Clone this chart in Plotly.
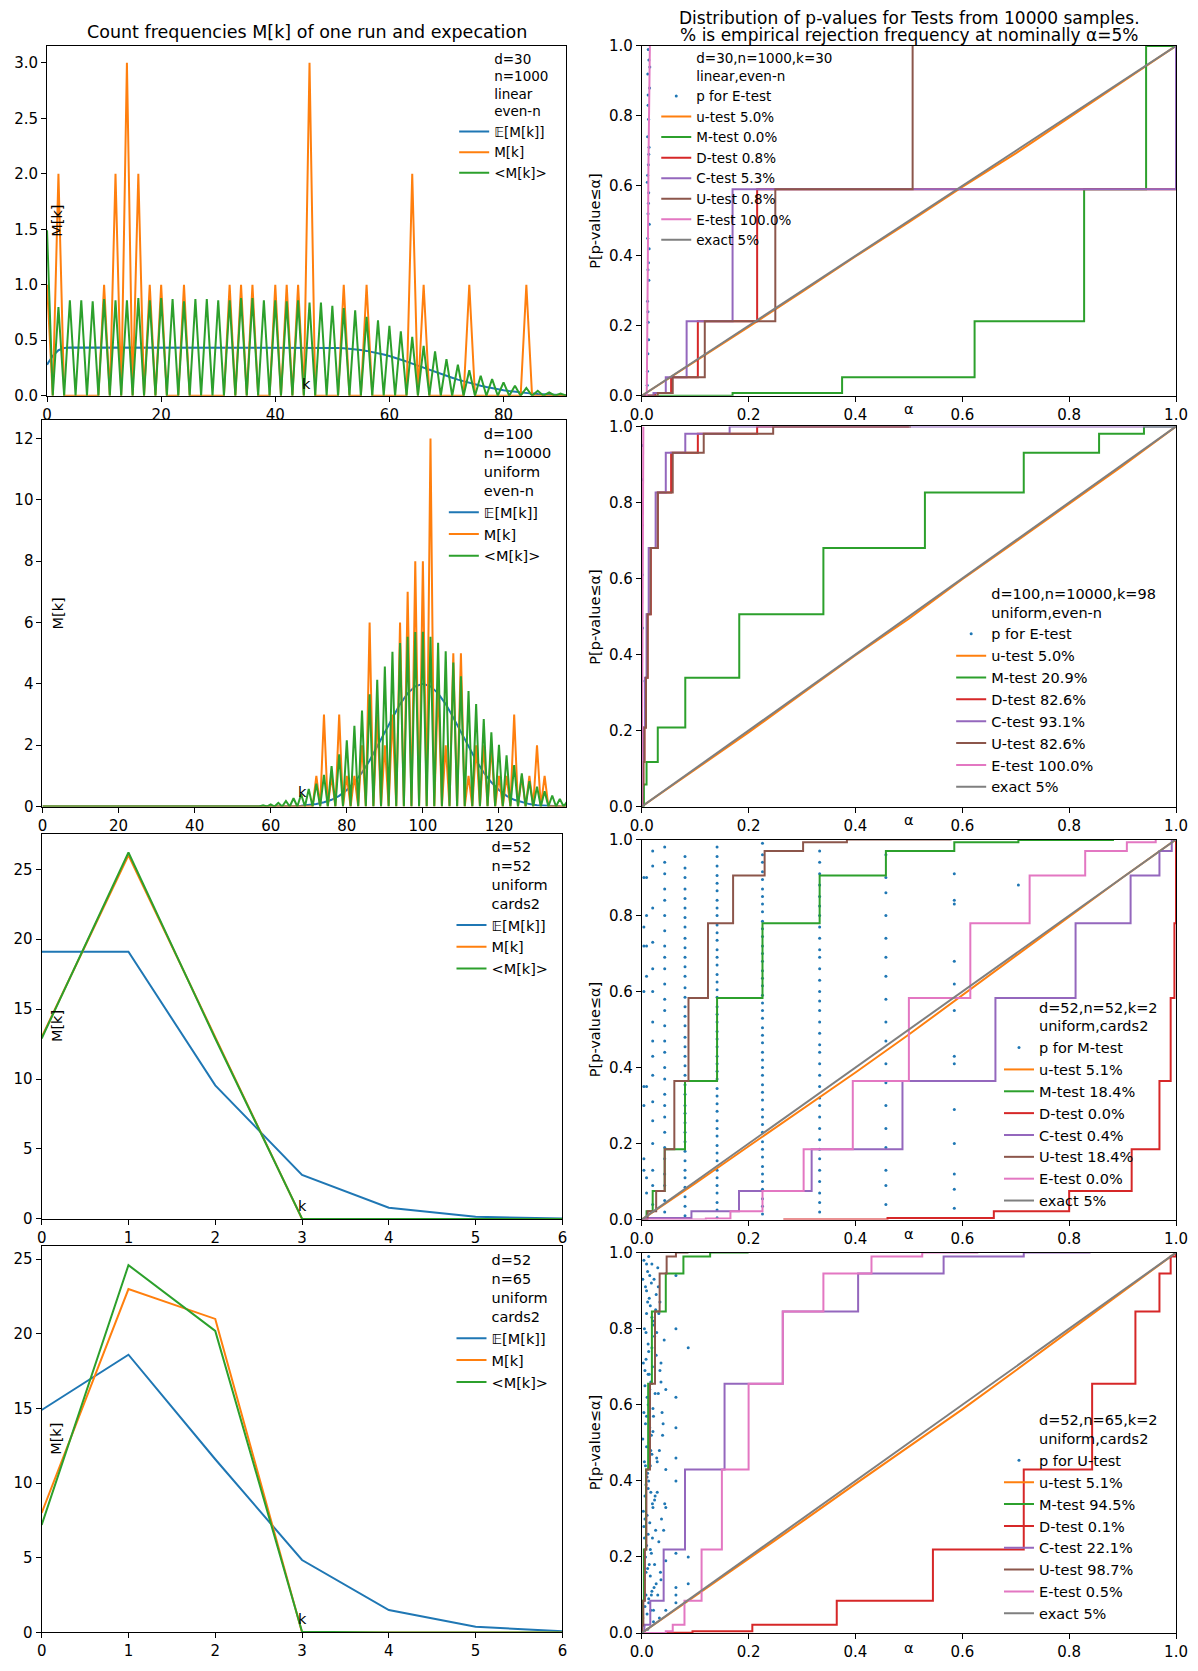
import plotly.graph_objects as go

# The page body has an 8px margin; the figure (placed at 8,8) is sized so the page fits the window.
# Positions below are given in reference-picture pixels and mapped into the figure.
FW, FH = 1181, 1654
SX, BX = 0.994, -5.5
SY, Y0 = 0.9899, 5.013
FONT = "DejaVu Sans"
C_BLUE, C_ORANGE, C_GREEN, C_RED = "#1f77b4", "#ff7f0e", "#2ca02c", "#d62728"
C_PURPLE, C_BROWN, C_PINK, C_GRAY = "#9467bd", "#8c564b", "#e377c2", "#7f7f7f"

# ======================= DATA =======================
# ---- left column: count frequencies ----
K1 = list(range(92))
EM1 = [0.28, 0.36, 0.41, 0.43, 0.435, 0.435, 0.435, 0.435, 0.435, 0.435,
       0.435, 0.435, 0.435, 0.435, 0.435, 0.435, 0.435, 0.435, 0.435, 0.435,
       0.435, 0.435, 0.435, 0.435, 0.435, 0.435, 0.435, 0.435, 0.435, 0.435,
       0.435, 0.435, 0.435, 0.435, 0.435, 0.435, 0.435, 0.435, 0.435, 0.435,
       0.435, 0.435, 0.435, 0.435, 0.435, 0.435, 0.435, 0.435, 0.435, 0.435,
       0.433, 0.431, 0.428, 0.424, 0.419, 0.412, 0.404, 0.395, 0.384, 0.372,
       0.358, 0.343, 0.326, 0.308, 0.289, 0.270, 0.252, 0.233, 0.215, 0.197,
       0.18, 0.162, 0.145, 0.13, 0.115, 0.102, 0.09, 0.079, 0.068, 0.058,
       0.05, 0.042, 0.035, 0.029, 0.024, 0.019, 0.015, 0.012, 0.009, 0.007,
       0.005, 0.004]
M1 = [1, 0, 2, 0, 0, 0, 0, 0, 0, 0,
      1, 0, 2, 0, 3, 0, 2, 0, 1, 0,
      1, 0, 0, 0, 1, 0, 0, 0, 0, 0,
      0, 0, 1, 0, 1, 0, 1, 0, 0, 0,
      1, 0, 1, 0, 1, 0, 3, 0, 0, 0,
      0, 0, 1, 0, 0, 0, 1, 0, 0, 0,
      0, 0, 0, 0, 2, 0, 1, 0, 0, 0,
      0, 0, 0, 0, 1, 0, 0, 0, 0, 0,
      0, 0, 0, 0, 1, 0, 0, 0, 0, 0,
      0, 0]
AVG1 = [1.49, 0, 0.80, 0, 0.86, 0, 0.86, 0, 0.85, 0,
        0.87, 0, 0.86, 0, 0.86, 0, 0.88, 0, 0.86, 0,
        0.88, 0, 0.87, 0, 0.85, 0, 0.87, 0, 0.87, 0,
        0.86, 0, 0.86, 0, 0.88, 0, 0.88, 0, 0.86, 0,
        0.86, 0, 0.85, 0, 0.86, 0, 0.84, 0, 0.84, 0,
        0.81, 0, 0.79, 0, 0.77, 0, 0.71, 0, 0.68, 0,
        0.63, 0, 0.58, 0, 0.53, 0, 0.45, 0, 0.40, 0,
        0.33, 0, 0.28, 0, 0.23, 0, 0.18, 0, 0.15, 0,
        0.12, 0, 0.09, 0, 0.07, 0, 0.045, 0, 0.03, 0,
        0.02, 0]

K2 = list(range(139))
EM2_K = [0, 60, 62, 64, 66, 68, 70, 72, 74, 76, 78, 80, 82, 84, 86, 88, 90, 92, 94, 96, 98,
         100, 102, 104, 106, 108, 110, 112, 114, 116, 118, 120, 122, 124, 126, 128, 130,
         132, 134, 136, 138]
EM2 = [0, 0.0, 0.003, 0.007, 0.013, 0.025, 0.045, 0.08, 0.14, 0.22, 0.35, 0.54, 0.79, 1.11,
       1.5, 1.95, 2.43, 2.9, 3.34, 3.69, 3.92, 4.0, 3.92, 3.69, 3.34, 2.9, 2.43, 1.95, 1.5,
       1.11, 0.79, 0.54, 0.35, 0.22, 0.14, 0.08, 0.045, 0.025, 0.013, 0.007, 0.003]
M2 = [0, 0, 0, 0, 0, 0, 0, 0, 0, 0,
      0, 0, 0, 0, 0, 0, 0, 0, 0, 0,
      0, 0, 0, 0, 0, 0, 0, 0, 0, 0,
      0, 0, 0, 0, 0, 0, 0, 0, 0, 0,
      0, 0, 0, 0, 0, 0, 0, 0, 0, 0,
      0, 0, 0, 0, 0, 0, 0, 0, 0, 0,
      0, 0, 0, 0, 0, 0, 0, 0, 0, 0,
      0, 0, 1, 0, 3, 0, 1, 0, 3, 0,
      1, 0, 1, 0, 2, 0, 6, 0, 3, 0,
      2, 0, 3, 0, 6, 0, 7, 0, 8, 0,
      8, 0, 12, 0, 4, 0, 2, 0, 5, 0,
      5, 0, 1, 0, 2, 0, 2, 0, 2, 0,
      1, 0, 1, 0, 3, 0, 1, 0, 1, 0,
      2, 0, 1, 0, 0, 0, 0, 0, 0]
AVG2 = [0, 0, 0, 0, 0, 0, 0, 0, 0, 0,
        0, 0, 0, 0, 0, 0, 0, 0, 0, 0,
        0, 0, 0, 0, 0, 0, 0, 0, 0, 0,
        0, 0, 0, 0, 0, 0, 0, 0, 0, 0,
        0, 0, 0, 0, 0, 0, 0, 0, 0, 0,
        0, 0, 0, 0, 0, 0, 0.02, 0, 0.04, 0,
        0.07, 0, 0.12, 0, 0.18, 0, 0.27, 0, 0.4, 0,
        0.57, 0, 0.75, 0, 1.03, 0, 1.32, 0, 1.7, 0,
        2.16, 0, 2.63, 0, 3.13, 0, 3.66, 0, 4.13, 0,
        4.57, 0, 5.05, 0, 5.33, 0, 5.54, 0, 5.69, 0,
        5.7, 0, 5.54, 0, 5.34, 0, 5.06, 0, 4.7, 0,
        4.25, 0, 3.77, 0, 3.34, 0, 2.85, 0, 2.42, 0,
        2.01, 0, 1.67, 0, 1.35, 0, 1.08, 0, 0.83, 0,
        0.65, 0, 0.5, 0, 0.36, 0, 0.25, 0, 0.18]

K3 = [0, 1, 2, 3, 4, 5, 6]
EM3 = [19.1, 19.1, 9.55, 3.15, 0.8, 0.15, 0.03]
M3 = [13, 26, 13, 0, 0, 0, 0]
AVG3 = [12.9, 26.2, 12.9, 0.02, 0, 0, 0]
EM4 = [14.9, 18.6, 11.6, 4.85, 1.5, 0.38, 0.08]
M4 = [8, 23, 21, 0, 0, 0, 0]
AVG4 = [7.2, 24.6, 20.2, 0.05, 0, 0, 0]

# ---- right column: p-value distributions ----
EXACT_X = [0, 1]
EXACT_Y = [0, 1]
UT_X = [0, 0.1, 0.2, 0.3, 0.4, 0.5, 0.6, 0.7, 0.8, 0.9, 1.0]

# row 1: d=30, n=1000, k=30
UT1_Y = [0, 0.098, 0.197, 0.297, 0.398, 0.496, 0.597, 0.693, 0.795, 0.897, 1.0]
MT1_X = [0, 0.17, 0.375, 0.623, 0.828, 0.944, 1.0]
MT1_Y = [0, 0.008, 0.053, 0.213, 0.59, 1.0, 1.0]
DT1_X = [0, 0.025, 0.055, 0.105, 0.216, 1.0]
DT1_Y = [0, 0.008, 0.053, 0.213, 0.59, 1.0]
CT1_X = [0, 0.022, 0.045, 0.084, 0.17, 1.0]
CT1_Y = [0, 0.008, 0.053, 0.213, 0.59, 1.0]
UU1_X = [0, 0.03, 0.058, 0.118, 0.25, 0.507]
UU1_Y = [0, 0.008, 0.053, 0.213, 0.59, 1.0]
ET1_X = [0.0094, 0.0105, 0.0115, 0.0125, 0.0138, 0.0152]
ET1_Y = [0, 0.15, 0.4, 0.65, 0.88, 1.0]
P1_X = [0.0102, 0.0115, 0.0121, 0.0108, 0.0133, 0.0126, 0.0112, 0.0141, 0.0118, 0.0130,
        0.0105, 0.0124, 0.0137, 0.0110, 0.0128, 0.0119, 0.0146, 0.0113, 0.0134, 0.0122,
        0.0107, 0.0129, 0.0116, 0.0139, 0.0125, 0.0111, 0.0132, 0.0120, 0.0151, 0.0117]
P1_Y = [0.03, 0.12, 0.21, 0.27, 0.33, 0.38, 0.45, 0.49, 0.52, 0.58,
        0.61, 0.66, 0.71, 0.74, 0.79, 0.83, 0.88, 0.92, 0.96, 0.99,
        0.07, 0.16, 0.24, 0.42, 0.55, 0.63, 0.69, 0.86, 0.94, 0.36]

# row 2: d=100, n=10000, k=98
UT2_Y = [0, 0.098, 0.195, 0.297, 0.398, 0.494, 0.598, 0.697, 0.797, 0.896, 1.0]
MT2_X = [0, 0.004, 0.009, 0.03, 0.0815, 0.1825, 0.34, 0.53, 0.715, 0.856, 0.94, 1.0]
MT2_Y = [0, 0.058, 0.117, 0.208, 0.339, 0.506, 0.68, 0.826, 0.931, 0.981, 1.0, 1.0]
DT2_X = [0, 0.001, 0.003, 0.005, 0.008, 0.011, 0.017, 0.03, 0.055, 0.105, 0.216, 0.5]
DT2_Y = [0, 0.058, 0.117, 0.208, 0.339, 0.506, 0.68, 0.826, 0.931, 0.981, 1.0, 1.0]
CT2_X = [0, 0.001, 0.002, 0.004, 0.006, 0.009, 0.013, 0.026, 0.045, 0.0815, 0.1645, 1.0]
CT2_Y = [0, 0.058, 0.117, 0.208, 0.339, 0.506, 0.68, 0.826, 0.931, 0.981, 1.0, 1.0]
UU2_X = [0, 0.001, 0.003, 0.005, 0.008, 0.011, 0.0166, 0.03, 0.058, 0.116, 0.246, 0.504]
UU2_Y = [0, 0.058, 0.117, 0.208, 0.339, 0.506, 0.68, 0.826, 0.931, 0.981, 1.0, 1.0]
ET2_X = [0, 0.001, 0.002, 0.003]
ET2_Y = [0, 0.35, 0.8, 1.0]
P2_X = [0.0008, 0.0012, 0.0006, 0.0015, 0.0010, 0.0009, 0.0013, 0.0007]
P2_Y = [0.05, 0.18, 0.33, 0.47, 0.61, 0.74, 0.86, 0.95]

# row 3: d=52, n=52, k=2
UT3_Y = [0, 0.095, 0.193, 0.29, 0.387, 0.487, 0.59, 0.692, 0.795, 0.9, 1.0]
MT3_X = [0, 0.009, 0.0205, 0.043, 0.081, 0.141, 0.226, 0.333, 0.457, 0.585, 0.705, 0.882]
MT3_Y = [0, 0.022, 0.075, 0.185, 0.365, 0.583, 0.78, 0.905, 0.97, 0.993, 0.999, 1.0]
DT3_X = [0.265, 0.46, 0.659, 0.80, 0.917, 0.969, 0.99, 0.997, 1.0]
DT3_Y = [0.0005, 0.004, 0.022, 0.075, 0.185, 0.365, 0.583, 0.78, 1.0]
CT3_X = [0, 0.01, 0.093, 0.182, 0.318, 0.488, 0.662, 0.812, 0.915, 0.969, 0.992]
CT3_Y = [0, 0.004, 0.022, 0.075, 0.185, 0.365, 0.583, 0.78, 0.905, 0.97, 1.0]
UU3_X = [0, 0.011, 0.027, 0.043, 0.061, 0.0875, 0.124, 0.171, 0.23, 0.302, 0.384, 0.58]
UU3_Y = [0, 0.022, 0.075, 0.185, 0.365, 0.583, 0.78, 0.905, 0.97, 0.993, 1.0, 1.0]
ET3_X = [0, 0.12, 0.166, 0.226, 0.303, 0.395, 0.5, 0.615, 0.726, 0.83, 0.908, 0.962]
ET3_Y = [0, 0.003, 0.022, 0.075, 0.185, 0.365, 0.583, 0.78, 0.905, 0.97, 0.993, 1.0]
P3_COLS_X = [0.004, 0.009, 0.0205, 0.043, 0.081, 0.141, 0.226, 0.333, 0.457, 0.585, 0.705]
P3_COLS_Y = [
    [0.13, 0.16, 0.3, 0.35, 0.6, 0.72, 0.77, 0.9],
    [0.07, 0.11, 0.35, 0.64, 0.72, 0.8, 0.9],
    [0.04, 0.09, 0.13, 0.2, 0.26, 0.31, 0.38, 0.43, 0.47, 0.52, 0.6, 0.66, 0.73, 0.82, 0.93, 0.97],
    [0.02, 0.05, 0.09, 0.12, 0.16, 0.19, 0.23, 0.27, 0.3, 0.33, 0.37, 0.4, 0.44, 0.47, 0.51, 0.55,
     0.58, 0.62, 0.66, 0.69, 0.72, 0.76, 0.8, 0.84, 0.87, 0.91, 0.94, 0.98],
    [0.01, 0.035, 0.06, 0.085, 0.11, 0.13, 0.155, 0.18, 0.205, 0.23, 0.255, 0.28, 0.3, 0.33, 0.355,
     0.38, 0.405, 0.43, 0.455, 0.48, 0.51, 0.535, 0.56, 0.585, 0.61, 0.64, 0.665, 0.69, 0.715,
     0.74, 0.77, 0.795, 0.82, 0.845, 0.87, 0.9, 0.925, 0.955],
    [0.005, 0.025, 0.045, 0.07, 0.09, 0.11, 0.13, 0.155, 0.175, 0.195, 0.22, 0.24, 0.26, 0.285,
     0.305, 0.325, 0.345, 0.37, 0.39, 0.41, 0.43, 0.455, 0.475, 0.495, 0.52, 0.54, 0.56, 0.585,
     0.605, 0.625, 0.645, 0.67, 0.69, 0.71, 0.735, 0.755, 0.775, 0.8, 0.82, 0.84, 0.865, 0.885,
     0.905, 0.93, 0.955, 0.98],
    [0.015, 0.035, 0.055, 0.08, 0.1, 0.12, 0.14, 0.165, 0.185, 0.205, 0.23, 0.25, 0.27, 0.29,
     0.315, 0.335, 0.355, 0.38, 0.4, 0.42, 0.44, 0.465, 0.485, 0.505, 0.53, 0.55, 0.57, 0.59,
     0.615, 0.635, 0.655, 0.68, 0.7, 0.72, 0.745, 0.765, 0.785, 0.81, 0.83, 0.85, 0.87, 0.895,
     0.915, 0.94, 0.96, 0.99],
    [0.02, 0.045, 0.07, 0.1, 0.13, 0.16, 0.185, 0.21, 0.24, 0.27, 0.3, 0.32, 0.35, 0.38, 0.41,
     0.44, 0.46, 0.49, 0.52, 0.55, 0.575, 0.6, 0.63, 0.66, 0.69, 0.71, 0.74, 0.77, 0.8, 0.825,
     0.85, 0.88, 0.91, 0.94, 0.97],
    [0.04, 0.09, 0.13, 0.19, 0.24, 0.3, 0.36, 0.41, 0.47, 0.52, 0.58, 0.64, 0.69, 0.74, 0.8,
     0.86, 0.9, 0.96],
    [0.03, 0.08, 0.12, 0.2, 0.29, 0.41, 0.43, 0.55, 0.62, 0.68, 0.83, 0.84, 0.91],
    [0.88],
]

# row 4: d=52, n=65, k=2
UT4_Y = [0, 0.097, 0.196, 0.293, 0.392, 0.49, 0.588, 0.69, 0.793, 0.895, 1.0]
MT4_X = [0, 0.001, 0.002, 0.004, 0.008, 0.012, 0.019, 0.045, 0.078, 0.128, 0.2]
MT4_Y = [0, 0.022, 0.085, 0.22, 0.43, 0.655, 0.845, 0.945, 0.99, 1.0, 1.0]
DT4_X = [0.045, 0.095, 0.207, 0.365, 0.545, 0.715, 0.843, 0.924, 0.969, 0.99, 1.0]
DT4_Y = [0.001, 0.005, 0.022, 0.085, 0.22, 0.43, 0.655, 0.845, 0.945, 0.99, 1.0]
CT4_X = [0, 0.005, 0.016, 0.041, 0.081, 0.155, 0.264, 0.405, 0.565, 0.715, 0.84]
CT4_Y = [0, 0.022, 0.085, 0.22, 0.43, 0.655, 0.845, 0.945, 0.99, 1.0, 1.0]
UU4_X = [0, 0.001, 0.003, 0.006, 0.0087, 0.0155, 0.0248, 0.0335, 0.0466, 0.064, 0.0875]
UU4_Y = [0, 0.022, 0.085, 0.22, 0.43, 0.655, 0.845, 0.945, 0.99, 1.0, 1.0]
ET4_X = [0, 0.045, 0.058, 0.08, 0.112, 0.15, 0.2, 0.264, 0.34, 0.43, 0.525, 0.63]
ET4_Y = [0, 0.005, 0.022, 0.085, 0.22, 0.43, 0.655, 0.845, 0.945, 0.99, 1.0, 1.0]
P4_X = [0.004, 0.011, 0.007, 0.019, 0.014, 0.009, 0.023, 0.005, 0.016, 0.012,
        0.008, 0.021, 0.006, 0.013, 0.017, 0.010, 0.024, 0.004, 0.015, 0.020,
        0.007, 0.012, 0.018, 0.009, 0.022, 0.005, 0.014, 0.011, 0.019, 0.008,
        0.016, 0.006, 0.013, 0.021, 0.010, 0.017, 0.004, 0.024, 0.012, 0.009,
        0.015, 0.007, 0.020, 0.011, 0.018, 0.005, 0.014, 0.023, 0.008, 0.016,
        0.006, 0.019, 0.010, 0.013, 0.022, 0.004, 0.017, 0.009, 0.012, 0.021,
        0.030, 0.034, 0.028, 0.036, 0.031, 0.040, 0.033, 0.045, 0.029, 0.037,
        0.032, 0.045, 0.035, 0.030, 0.045, 0.027, 0.038, 0.045, 0.033, 0.036,
        0.064, 0.064, 0.064, 0.064, 0.064, 0.064, 0.064, 0.064, 0.064, 0.064,
        0.087, 0.087, 0.087,
        0.002, 0.013, 0.026, 0.008, 0.018, 0.003, 0.022, 0.011, 0.027, 0.006,
        0.015, 0.025, 0.009, 0.019, 0.002, 0.014, 0.028, 0.007, 0.021, 0.012,
        0.003, 0.017, 0.026, 0.010, 0.020, 0.005, 0.016, 0.027, 0.008, 0.013,
        0.024, 0.002, 0.018, 0.011, 0.025, 0.006, 0.015, 0.022, 0.009, 0.019,
        0.031, 0.042, 0.034, 0.039, 0.045, 0.029, 0.041, 0.036, 0.043, 0.032]
P4_Y = [0.98, 0.95, 0.91, 0.97, 0.88, 0.84, 0.93, 0.8, 0.86, 0.76,
        0.72, 0.82, 0.69, 0.74, 0.66, 0.62, 0.78, 0.58, 0.64, 0.7,
        0.55, 0.6, 0.52, 0.49, 0.57, 0.45, 0.5, 0.42, 0.47, 0.39,
        0.44, 0.36, 0.4, 0.33, 0.31, 0.37, 0.28, 0.35, 0.26, 0.23,
        0.29, 0.2, 0.25, 0.17, 0.21, 0.14, 0.18, 0.12, 0.1, 0.15,
        0.07, 0.11, 0.05, 0.08, 0.03, 0.02, 0.06, 0.9, 0.68, 0.53,
        0.96, 0.87, 0.79, 0.71, 0.63, 0.55, 0.48, 0.43, 0.37, 0.3,
        0.24, 0.19, 0.16, 0.1, 0.06, 0.89, 0.58, 0.33, 0.04, 0.66,
        0.94, 0.8, 0.62, 0.54, 0.46, 0.4, 0.21, 0.12, 0.1, 0.08,
        0.75, 0.2, 0.13,
        0.93, 0.99, 0.85, 0.79, 0.92, 0.71, 0.81, 0.87, 0.73, 0.65,
        0.94, 0.63, 0.57, 0.75, 0.51, 0.68, 0.46, 0.44, 0.59, 0.38,
        0.32, 0.48, 0.27, 0.41, 0.34, 0.25, 0.22, 0.13, 0.16, 0.09,
        0.18, 0.04, 0.1, 0.01, 0.36, 0.3, 0.54, 0.06, 0.97, 0.83,
        0.91, 0.77, 0.69, 0.52, 0.64, 0.45, 0.27, 0.14, 0.34, 0.84]

P3_X = [x for x, ys in zip(P3_COLS_X, P3_COLS_Y) for _ in ys]
P3_Y = [y for ys in P3_COLS_Y for y in ys]

# ---- text ----
LEFT_TITLE = "Count frequencies M[k] of one run and expecation"
RIGHT_TITLE_1 = "Distribution of p-values for Tests from 10000 samples."
RIGHT_TITLE_2 = "% is empirical rejection frequency at nominally α=5%"
LEFT_INFO = ["d=30<br>n=1000<br>linear<br>even-n", "d=100<br>n=10000<br>uniform<br>even-n",
             "d=52<br>n=52<br>uniform<br>cards2", "d=52<br>n=65<br>uniform<br>cards2"]
LEFT_NAMES = ["𝔼[M[k]]", "M[k]", "&lt;M[k]&gt;"]
RIGHT_INFO = ["d=30,n=1000,k=30<br>linear,even-n", "d=100,n=10000,k=98<br>uniform,even-n",
              "d=52,n=52,k=2<br>uniform,cards2", "d=52,n=65,k=2<br>uniform,cards2"]
RIGHT_NAMES = [
    ["p for E-test", "u-test 5.0%", "M-test 0.0%", "D-test 0.8%", "C-test 5.3%", "U-test 0.8%", "E-test 100.0%", "exact 5%"],
    ["p for E-test", "u-test 5.0%", "M-test 20.9%", "D-test 82.6%", "C-test 93.1%", "U-test 82.6%", "E-test 100.0%", "exact 5%"],
    ["p for M-test", "u-test 5.1%", "M-test 18.4%", "D-test 0.0%", "C-test 0.4%", "U-test 18.4%", "E-test 0.0%", "exact 5%"],
    ["p for U-test", "u-test 5.1%", "M-test 94.5%", "D-test 0.1%", "C-test 22.1%", "U-test 98.7%", "E-test 0.5%", "exact 5%"],
]

# ======================= FIGURE =======================
fig = go.Figure()


def fx(x):
    return (SX * x + BX) / FW


def fy(y):
    return 1 - SY * (y - Y0) / FH


def axn(n):
    return ("x" if n == 1 else f"x{n}"), ("y" if n == 1 else f"y{n}")


def legn(n):
    return "legend" if n == 1 else f"legend{n}"


LW = 2


def left_panel(n, info, kx, em_k, em, m, avg):
    xa, ya = axn(n)
    common = dict(xaxis=xa, yaxis=ya, legend=legn(n), hoverinfo="skip")
    fig.add_trace(go.Scatter(x=[None], y=[None], mode="lines", name=info,
                             line=dict(color="rgba(0,0,0,0)", width=LW), **common))
    fig.add_trace(go.Scatter(x=em_k, y=em, mode="lines", name=LEFT_NAMES[0],
                             line=dict(color=C_BLUE, width=LW), **common))
    fig.add_trace(go.Scatter(x=kx, y=m, mode="lines", name=LEFT_NAMES[1],
                             line=dict(color=C_ORANGE, width=LW), **common))
    fig.add_trace(go.Scatter(x=kx, y=avg, mode="lines", name=LEFT_NAMES[2],
                             line=dict(color=C_GREEN, width=LW), **common))


def right_panel(n, info, names, px, py, uty, mx, my, dx, dy, cx, cy, ux, uy, ex, ey, e_shape):
    xa, ya = axn(n)
    common = dict(xaxis=xa, yaxis=ya, legend=legn(n), hoverinfo="skip")
    fig.add_trace(go.Scatter(x=[None], y=[None], mode="lines", name=info,
                             line=dict(color="rgba(0,0,0,0)", width=LW), **common))
    fig.add_trace(go.Scatter(x=px, y=py, mode="markers", name=names[0],
                             marker=dict(color=C_BLUE, size=3), **common))
    fig.add_trace(go.Scatter(x=UT_X, y=uty, mode="lines", name=names[1],
                             line=dict(color=C_ORANGE, width=LW), **common))
    for (xx, yy, col, nm) in [(mx, my, C_GREEN, names[2]), (dx, dy, C_RED, names[3]),
                              (cx, cy, C_PURPLE, names[4]), (ux, uy, C_BROWN, names[5])]:
        fig.add_trace(go.Scatter(x=xx, y=yy, mode="lines", name=nm,
                                 line=dict(color=col, width=LW, shape="hv"), **common))
    fig.add_trace(go.Scatter(x=ex, y=ey, mode="lines", name=names[6],
                             line=dict(color=C_PINK, width=LW, shape=e_shape), **common))
    fig.add_trace(go.Scatter(x=EXACT_X, y=EXACT_Y, mode="lines", name=names[7],
                             line=dict(color=C_GRAY, width=LW), **common))


left_panel(1, LEFT_INFO[0], K1, K1, EM1, M1, AVG1)
right_panel(2, RIGHT_INFO[0], RIGHT_NAMES[0], P1_X, P1_Y, UT1_Y, MT1_X, MT1_Y, DT1_X, DT1_Y,
            CT1_X, CT1_Y, UU1_X, UU1_Y, ET1_X, ET1_Y, "linear")
left_panel(3, LEFT_INFO[1], K2, EM2_K, EM2, M2, AVG2)
right_panel(4, RIGHT_INFO[1], RIGHT_NAMES[1], P2_X, P2_Y, UT2_Y, MT2_X, MT2_Y, DT2_X, DT2_Y,
            CT2_X, CT2_Y, UU2_X, UU2_Y, ET2_X, ET2_Y, "linear")
left_panel(5, LEFT_INFO[2], K3, K3, EM3, M3, AVG3)
right_panel(6, RIGHT_INFO[2], RIGHT_NAMES[2], P3_X, P3_Y, UT3_Y, MT3_X, MT3_Y, DT3_X, DT3_Y,
            CT3_X, CT3_Y, UU3_X, UU3_Y, ET3_X, ET3_Y, "hv")
left_panel(7, LEFT_INFO[3], K3, K3, EM4, M4, AVG4)
right_panel(8, RIGHT_INFO[3], RIGHT_NAMES[3], P4_X, P4_Y, UT4_Y, MT4_X, MT4_Y, DT4_X, DT4_Y,
            CT4_X, CT4_Y, UU4_X, UU4_Y, ET4_X, ET4_Y, "hv")

# ---- layout: panel boxes in reference pixels (left, right, top, bottom) ----
BOXES = {
    1: (44.8, 567.2, 43.3, 396.7), 2: (643.1, 1180.6, 43.3, 396.7),
    3: (40.2, 567.2, 421.7, 811.7), 4: (643.1, 1180.6, 427.7, 811.7),
    5: (39.4, 563.3, 839.3, 1228.3), 6: (643.1, 1180.6, 845.0, 1229.0),
    7: (39.4, 563.3, 1256.0, 1646.0), 8: (643.1, 1180.6, 1262.3, 1646.7),
}
RANGES = {
    1: ([0, 91], [0, 3.152], 20, 0.5, ".1f"),
    3: ([0, 137.7], [0, 12.59], 20, 2, ""),
    5: ([0, 6], [0, 27.53], 1, 5, ""),
    7: ([0, 6], [0, 25.86], 1, 5, ""),
}
AX = dict(showline=True, mirror=True, linecolor="black", linewidth=1, ticks="outside",
          ticklen=5, tickwidth=1, tickcolor="black", showgrid=False, zeroline=False,
          automargin=False, tickfont=dict(size=15, color="black", family=FONT), fixedrange=True)

layout = dict(width=FW, height=FH, autosize=False,
              margin=dict(l=0, r=0, t=0, b=0, pad=0, autoexpand=False),
              paper_bgcolor="white", plot_bgcolor="white",
              font=dict(family=FONT, color="black", size=14))
for n, (l, r, t, b) in BOXES.items():
    xk = "xaxis" if n == 1 else f"xaxis{n}"
    yk = "yaxis" if n == 1 else f"yaxis{n}"
    xa, ya = axn(n)
    if n % 2 == 1:
        xr, yr, dx, dy, yf = RANGES[n]
        xf = ""
    else:
        xr, yr, dx, dy, xf, yf = [0, 1], [0, 1], 0.2, 0.2, ".1f", ".1f"
    layout[xk] = dict(AX, domain=[fx(l), fx(r)], range=xr, dtick=dx, tick0=0, tickformat=xf, anchor=ya)
    layout[yk] = dict(AX, domain=[fy(b), fy(t)], range=yr, dtick=dy, tick0=0, tickformat=yf, anchor=xa)

# legends: (left of legend box, top, font size) in reference pixels
LEG = {1: (454.4, 40.5, 13.5), 2: (657.7, 40.0, 13.5),
       3: (444.0, 419.0, 14.5), 4: (954.4, 580.0, 14.5),
       5: (451.7, 836.0, 14.5), 6: (1002.5, 998.0, 14.5),
       7: (451.7, 1253.5, 14.5), 8: (1002.5, 1415.0, 14.5)}
for n, (lx, ty, fs) in LEG.items():
    layout[legn(n)] = dict(x=fx(lx), y=fy(ty), xanchor="left", yanchor="top",
                           bgcolor="rgba(0,0,0,0)", borderwidth=0, itemwidth=30,
                           font=dict(size=fs, family=FONT, color="black"), traceorder="normal")


def ann(text, x, y, size=14, angle=0):
    return dict(text=text, x=fx(x), y=fy(y), xref="paper", yref="paper", showarrow=False,
                xanchor="center", yanchor="middle", textangle=angle,
                font=dict(size=size, family=FONT, color="black"))


# two-line right title: glyphs 17px, line pitch 17px (1.3 x 13.08px), kept inside the figure top
RIGHT_TITLE = ('<span style="font-size:17px">' + RIGHT_TITLE_1 + '</span><br>'
               '<span style="font-size:17px">' + RIGHT_TITLE_2 + '</span>')
right_title = ann(RIGHT_TITLE, 912, 0, 13.08)
right_title["y"] = 1 - 18.9 / FH
right_title["borderpad"] = 0
annotations = [
    ann(LEFT_TITLE, 306, 29.3, 17.5),
    right_title,
]
for (mx, my, kx, ky) in [(54.8, 220, 306, 385), (55.5, 617, 302.3, 796.7),
                         (54.3, 1033, 301.6, 1215), (54.3, 1450, 301.6, 1632.7)]:
    annotations.append(ann("M[k]", mx, my, 14.5, -90))
    annotations.append(ann("k", kx, ky, 14.5))
for (py, ay) in [(220, 410), (620, 825), (1036.7, 1243.3), (1454, 1661.7)]:
    annotations.append(ann("P[p-value≤α]", 596, py, 14.5, -90))
    annotations.append(ann("α", 912, ay, 14.5))
layout["annotations"] = annotations

fig.update_layout(**layout)
fig.write_html("out.html")
